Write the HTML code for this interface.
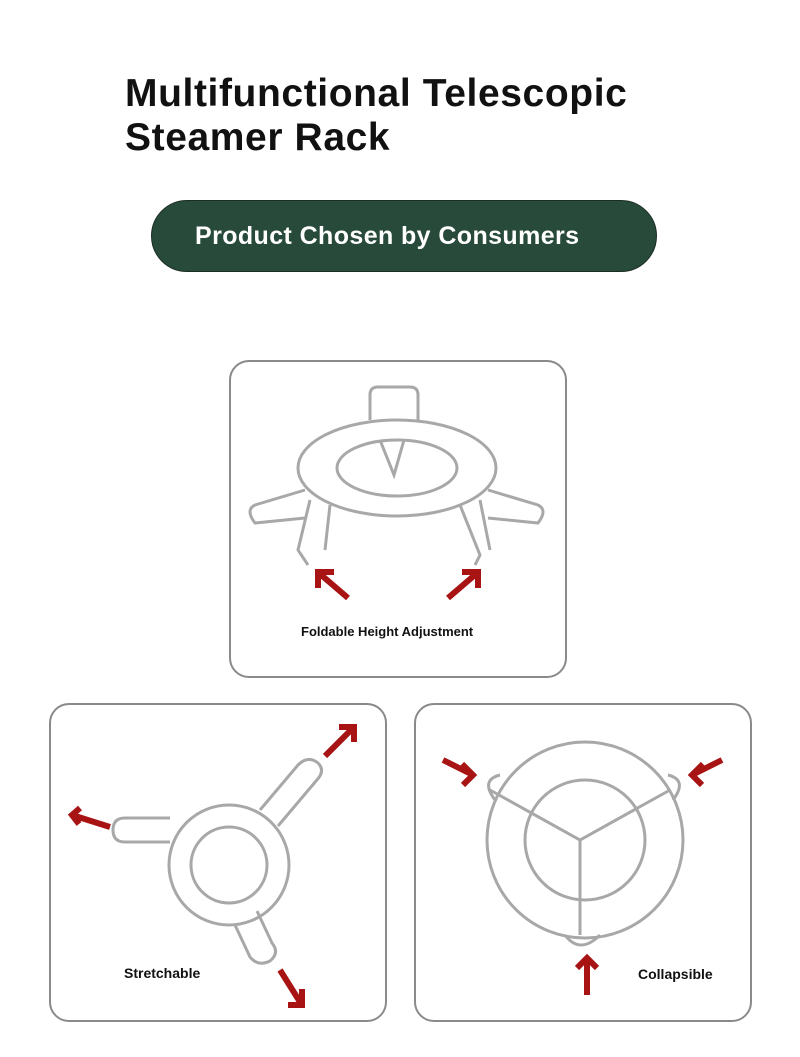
<!DOCTYPE html>
<html><head><meta charset="utf-8"><style>
body{margin:0;width:800px;height:1057px;background:#fff;position:relative;overflow:hidden;font-family:"Liberation Sans",sans-serif}
.t{position:absolute;left:125px;top:72px;font-size:39px;font-weight:bold;line-height:44px;color:#111;letter-spacing:0.6px}
.pill{position:absolute;left:151px;top:200px;width:506px;height:72px;border-radius:36px;background:#284a3b;border:1px solid #1a2e25;color:#fff;font-weight:bold;font-size:25px;line-height:70px;box-sizing:border-box;padding-left:43px;letter-spacing:0.4px}
.card{position:absolute;border:2px solid #8a8a8a;border-radius:20px;background:#fff;box-sizing:border-box}
.lab{position:absolute;font-size:14px;font-weight:bold;color:#111}
svg{position:absolute;left:0;top:0}
</style></head><body>
<div class="t">Multifunctional Telescopic<br>Steamer Rack</div>
<div class="pill">Product Chosen by Consumers</div>
<div class="card" style="left:229px;top:360px;width:338px;height:318px"></div>
<div class="card" style="left:49px;top:703px;width:338px;height:319px"></div>
<div class="card" style="left:414px;top:703px;width:338px;height:319px"></div>
<div class="lab" style="left:301px;top:624px;font-size:13px">Foldable Height Adjustment</div>
<div class="lab" style="left:124px;top:965px">Stretchable</div>
<div class="lab" style="left:638px;top:966px">Collapsible</div>
<svg width="800" height="1057" fill="none" stroke="#a8a8a8" stroke-width="3">
<ellipse cx="397" cy="468" rx="99" ry="48"/>
<ellipse cx="397" cy="468" rx="60" ry="28"/>
<path d="M370 420 v-25 q0-8 8-8 h32 q8 0 8 8 v25 M380 440 l14 35 l10-35"/>
<path d="M305 490 l-50 15 q-10 5 0 18 l50-5 M488 490 l50 15 q10 5 0 18 l-50-5"/>
<path d="M310 500 l-12 50 l10 15 M330 505 l-5 45 M460 505 l20 50 l-5 10 M480 500 l10 50"/>
<circle cx="229" cy="865" r="60"/><circle cx="229" cy="865" r="38"/>
<path d="M170 818 h-45 q-12 0-12 12 q0 12 12 12 h45 M260 810 l38-45 q10-10 20-2 q8 8-2 18 l-38 45 M235 925 l15 32 q8 10 20 4 q10-8 2-18 l-15-32"/>
<circle cx="585" cy="840" r="98"/><circle cx="585" cy="840" r="60"/>
<path d="M490 790 l90 50 l90-50 M580 840 v95 M500 775 q-20 5-5 25 M668 775 q20 5 5 25 M565 935 q15 20 35 0"/>
<g stroke="#a81414" stroke-width="6">
<path d="M348 598 l-28-24 M318 588 v-16 h16"/>
<path d="M448 598 l28-24 M478 588 v-16 h-16"/>
<path d="M325 756 l28-28 M339 727 h15 v15"/>
<path d="M110 827 l-38-12 M80 808 l-8 7 l7 9"/>
<path d="M280 970 l20 32 M288 1005 h14 v-16"/>
<path d="M443 760 l30 15 M462 764 l11 11 l-10 10"/>
<path d="M722 760 l-30 15 M703 764 l-11 11 l10 10"/>
<path d="M587 995 v-35 M577 968 l10-10 l10 10"/>
</g></svg>
</body></html>
